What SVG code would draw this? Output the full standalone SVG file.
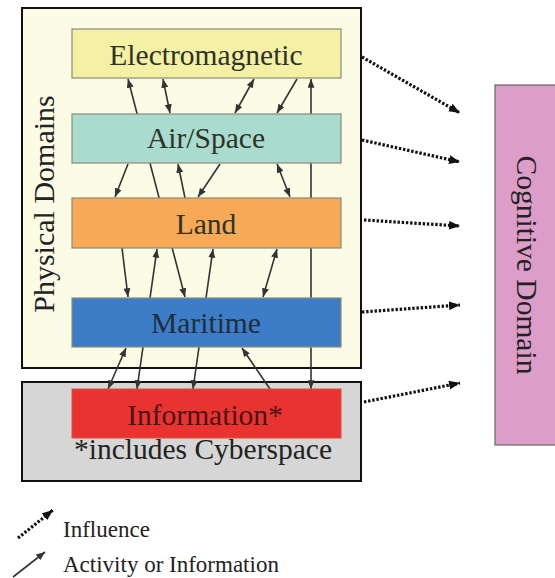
<svg xmlns="http://www.w3.org/2000/svg" width="555" height="578" viewBox="0 0 555 578">
<style>
.lbl{font-family:"Liberation Serif","Times New Roman",serif;font-size:29.5px;fill:#2e3328;text-anchor:middle}
.leg{font-family:"Liberation Serif","Times New Roman",serif;font-size:23px;fill:#222}
.dom{stroke:#8a8a7a;stroke-width:1.2}
.act{stroke:#333;stroke-width:1.6;fill:none;marker-end:url(#ah)}
.dbl{marker-start:url(#ah)}
.inf{stroke:#111;stroke-width:3.2;stroke-dasharray:2.4 1.8;fill:none;marker-end:url(#dh)}
</style>
<defs>
<marker id="ah" viewBox="0 0 10 8" refX="10" refY="4" markerWidth="9" markerHeight="7" markerUnits="userSpaceOnUse" orient="auto-start-reverse">
<path d="M0,0 L10,4 L0,8 z" fill="#333"/>
</marker>
<marker id="dh" viewBox="0 0 10 8" refX="10" refY="4" markerWidth="11" markerHeight="9" markerUnits="userSpaceOnUse" orient="auto">
<path d="M0,0 L10,4 L0,8 z" fill="#111"/>
</marker>
</defs>
<rect width="555" height="578" fill="#ffffff"/>
<g id="physical-domains">
<rect x="22" y="8" width="339" height="360" fill="#fcfbe6" stroke="#111" stroke-width="2"/>
<text class="lbl" transform="translate(54,204) rotate(-90)" style="font-size:30px;fill:#222">Physical Domains</text>
</g>
<g id="information-container">
<rect x="22" y="382" width="339" height="99" fill="#d6d6d6" stroke="#111" stroke-width="2"/>
<text class="lbl" x="203" y="459" style="fill:#222">*includes Cyberspace</text>
</g>
<g id="cognitive-domain">
<rect x="495" y="85" width="70" height="360" fill="#dc9dc9" stroke="#666" stroke-width="1.2"/>
<text class="lbl" transform="translate(517,265) rotate(90)" style="fill:#222">Cognitive Domain</text>
</g>
<g id="connectors">
<line class="act dbl" x1="185" y1="297" x2="128" y2="79"/>
<line class="act dbl" x1="170" y1="113" x2="163" y2="79"/>
<line class="act dbl" x1="235" y1="113" x2="254" y2="79"/>
<line class="act" x1="297" y1="79" x2="277" y2="113"/>
<line class="act dbl" x1="311" y1="389" x2="311" y2="79"/>
<line class="act" x1="128" y1="164" x2="115" y2="197"/>
<line class="act" x1="185" y1="198" x2="178" y2="164"/>
<line class="act" x1="220" y1="164" x2="198" y2="197"/>
<line class="act dbl" x1="277" y1="164" x2="290" y2="197"/>
<line class="act" x1="122" y1="248" x2="128" y2="297"/>
<line class="act dbl" x1="137" y1="389" x2="157" y2="249"/>
<line class="act dbl" x1="193" y1="389" x2="213" y2="249"/>
<line class="act dbl" x1="263" y1="297" x2="277" y2="249"/>
<line class="act dbl" x1="108" y1="389" x2="126" y2="348"/>
<line class="act" x1="270" y1="389" x2="242" y2="348"/>
<line class="inf" x1="362" y1="57" x2="460" y2="113"/>
<line class="inf" x1="362" y1="140" x2="460" y2="162"/>
<line class="inf" x1="364" y1="220" x2="460" y2="226"/>
<line class="inf" x1="362" y1="312" x2="460" y2="305"/>
<line class="inf" x1="364" y1="402" x2="460" y2="383"/>
</g>
<g id="electromagnetic">
<rect class="dom" x="72" y="29" width="269" height="49" fill="#f4f0a4"/>
<text class="lbl" x="206" y="65">Electromagnetic</text>
</g>
<g id="air-space">
<rect class="dom" x="72" y="114" width="269" height="49" fill="#a9dccf"/>
<text class="lbl" x="206" y="148">Air/Space</text>
</g>
<g id="land">
<rect class="dom" x="72" y="198" width="269" height="50" fill="#f7a955"/>
<text class="lbl" x="206" y="234">Land</text>
</g>
<g id="maritime">
<rect class="dom" x="72" y="298" width="269" height="49" fill="#3d7dc8"/>
<text class="lbl" x="206" y="333" style="fill:#1e2e3a">Maritime</text>
</g>
<g id="information">
<rect x="72" y="389" width="269" height="49" fill="#e93331" stroke="#d85040" stroke-width="1"/>
<text class="lbl" x="205" y="425" style="fill:#4a1414">Information*</text>
</g>
<g id="legend">
<line class="inf" x1="18" y1="538" x2="53" y2="510"/>
<text class="leg" x="63" y="537">Influence</text>
<line class="act" x1="13" y1="577" x2="45" y2="552"/>
<text class="leg" x="63" y="572">Activity or Information</text>
</g>
</svg>
